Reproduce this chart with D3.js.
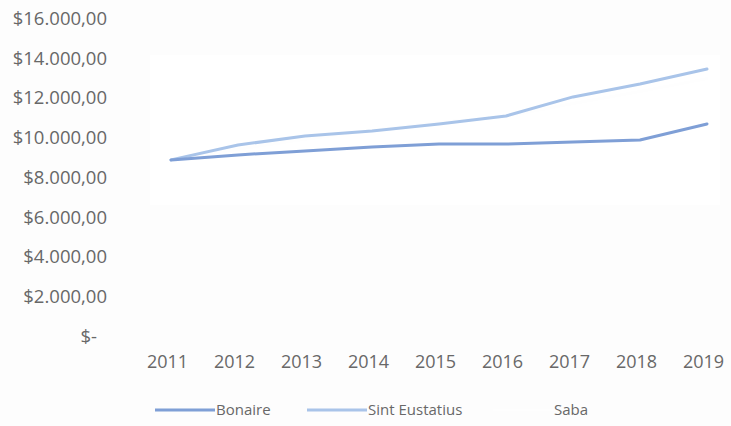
<!DOCTYPE html>
<html>
<head>
<meta charset="utf-8">
<script src="https://cdn.jsdelivr.net/npm/d3@7"></script>
<style>
  body { margin: 0; background: #fdfdfd; }
  svg { display: block; }
  text { font-family: "Open Sans", "Liberation Sans", sans-serif; fill: #686868; }
</style>
</head>
<body>
<div id="chart"></div>
<script>
"use strict";

var years = ["2011", "2012", "2013", "2014", "2015", "2016", "2017", "2018", "2019"];
var bonaire = [8860, 9110, 9310, 9510, 9660, 9660, 9760, 9860, 10670];
var sintEustatius = [8860, 9610, 10060, 10310, 10670, 11070, 12030, 12680, 13430];
var saba = [8860, 9400, 9900, 10350, 10750, 11050, 11700, 12300, 12950];
var yTicks = [0, 2000, 4000, 6000, 8000, 10000, 12000, 14000, 16000];

var series = [
    { name: "Bonaire", values: bonaire, color: "#7f9fd6" },
    { name: "Sint Eustatius", values: sintEustatius, color: "#a9c4e9" },
    { name: "Saba", values: saba, color: "#fefefe" }
];

var width = 731, height = 426;

var svg = d3.select("#chart").append("svg")
    .attr("width", width)
    .attr("height", height);

svg.append("rect").attr("x", 150).attr("y", 55).attr("width", 570).attr("height", 150)
    .attr("fill", "#ffffff");

var x = d3.scalePoint().domain(years).range([171, 707]);
var y = d3.scaleLinear().domain([0, 16000]).range([336, 18]);

var fmt = function (v) {
    if (v === 0) return "$-";
    return "$" + d3.format(",.2f")(v).replace(/,/g, "#").replace(".", ",").replace(/#/g, ".");
};

// y axis labels
var yAxis = d3.axisLeft(y).tickValues(yTicks).tickFormat(fmt).tickSize(0).tickPadding(0);
var gy = svg.append("g").attr("transform", "translate(107,0)").call(yAxis);
gy.select(".domain").remove();
gy.selectAll("text").style("font-size", "18.5px").style("fill", "#686868")
    .attr("dy", "0.35em")
    .style("font-family", "'Open Sans', sans-serif");
gy.selectAll(".tick").filter(function (d) { return d === 0; }).select("text").attr("x", -10);

// x axis labels
var xAxis = d3.axisBottom(x).tickSize(0).tickPadding(0);
var gx = svg.append("g").attr("transform", "translate(-4,355)").call(xAxis);
gx.select(".domain").remove();
gx.selectAll("text").style("font-size", "18px").style("fill", "#686868")
    .style("font-family", "'Open Sans', sans-serif");

// lines
var line = d3.line()
    .x(function (d, i) { return x(years[i]); })
    .y(function (d) { return y(d); });

svg.selectAll(".series").data(series.slice().reverse()).enter().append("path")
    .attr("class", "series")
    .attr("d", function (s) { return line(s.values); })
    .attr("fill", "none")
    .attr("stroke", function (s) { return s.color; })
    .attr("stroke-width", 3)
    .attr("stroke-linejoin", "round")
    .attr("stroke-linecap", "round");

// legend
var legendPos = [155, 307, 493];
var lg = svg.selectAll(".legend").data(series).enter().append("g")
    .attr("class", "legend")
    .attr("transform", function (d, i) { return "translate(" + legendPos[i] + ",410)"; });
lg.append("line").attr("x1", 0).attr("x2", 60).attr("y1", 0).attr("y2", 0)
    .attr("stroke", function (d) { return d.color; }).attr("stroke-width", 3);
lg.append("text").attr("x", 61).attr("dy", "0.35em")
    .style("font-size", "15px").text(function (d) { return d.name; });
</script>
</body>
</html>
